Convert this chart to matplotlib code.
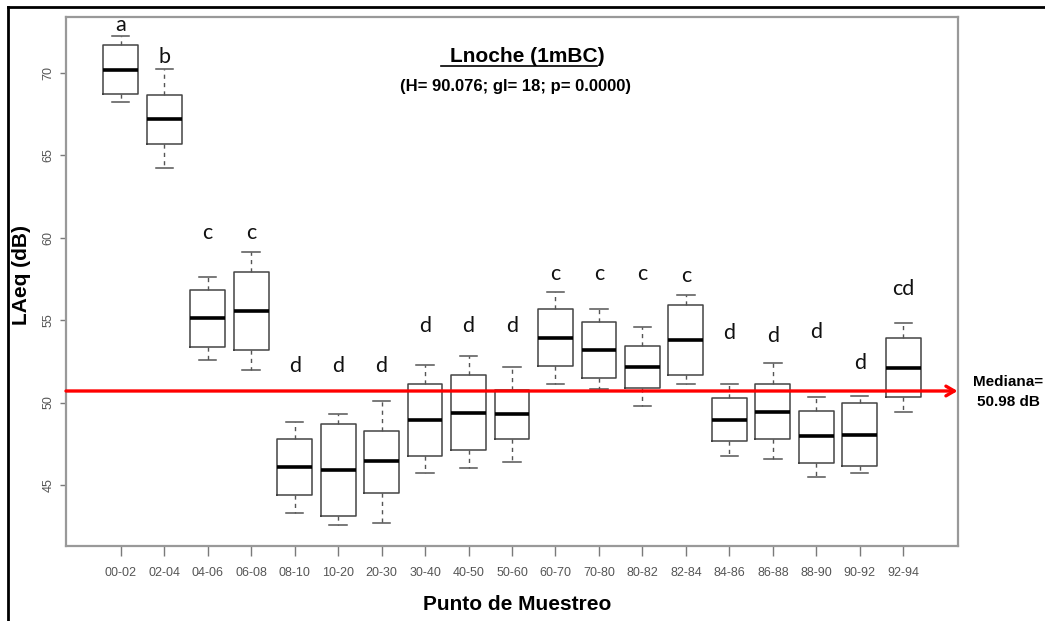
import matplotlib
matplotlib.use("Agg")
import matplotlib.pyplot as plt
from matplotlib.lines import Line2D

# sampling points and box statistics (dB)
puntos = ["00-02", "02-04", "04-06", "06-08", "08-10", "10-20", "20-30", "30-40",
          "40-50", "50-60", "60-70", "70-80", "80-82", "82-84", "84-86", "86-88",
          "88-90", "90-92", "92-94"]
whis_hi = [72.2, 70.2, 57.6, 59.15, 48.85, 49.3, 50.1, 52.3, 52.8, 52.15, 56.7, 55.65,
           54.6, 56.55, 51.15, 52.4, 50.35, 50.4, 54.85]
q3 = [71.7, 68.65, 56.8, 57.9, 47.8, 48.7, 48.3, 51.15, 51.65, 50.75, 55.65, 54.9,
      53.45, 55.9, 50.25, 51.15, 49.5, 50.0, 53.9]
mediana = [70.15, 67.2, 55.1, 55.55, 46.1, 45.9, 46.45, 48.95, 49.35, 49.3, 53.9, 53.2,
           52.15, 53.8, 48.95, 49.45, 47.95, 48.05, 52.1]
q1 = [68.7, 65.65, 53.35, 53.2, 44.4, 43.1, 44.5, 46.75, 47.1, 47.8, 52.2, 51.5,
      50.9, 51.7, 47.65, 47.8, 46.35, 46.15, 50.35]
whis_lo = [68.2, 64.2, 52.55, 51.95, 43.3, 42.55, 42.7, 45.7, 46.0, 46.4, 51.15, 50.8,
           49.8, 51.1, 46.75, 46.6, 45.5, 45.75, 49.4]

# significance letters and their heights
letras = ["a", "b", "c", "c", "d", "d", "d", "d", "d", "d", "c", "c", "c", "c",
          "d", "d", "d", "d", "cd"]
letra_y = [72.9, 70.95, 60.3, 60.3, 52.2, 52.2, 52.2, 54.65, 54.65, 54.65, 57.8, 57.8,
           57.8, 57.65, 54.2, 54.05, 54.3, 52.4, 56.9]

mediana_global = 50.7

gris = "#7a7a7a"

fig = plt.figure(figsize=(10.45, 6.21), dpi=100)
ax = fig.add_axes([66 / 1045, 1 - 546 / 621, (958 - 66) / 1045, (546 - 17) / 621])

stats = []
for i in range(len(puntos)):
    stats.append({"med": mediana[i], "q1": q1[i], "q3": q3[i],
                  "whislo": whis_lo[i], "whishi": whis_hi[i], "fliers": []})

pos = list(range(1, len(puntos) + 1))
ax.bxp(stats, positions=pos, widths=0.8, showfliers=False,
       boxprops=dict(color="#444444", linewidth=1.1),
       medianprops=dict(color="black", linewidth=2.6),
       whiskerprops=dict(color="#555555", linewidth=1.0, linestyle=(0, (3, 3))),
       capprops=dict(color="#555555", linewidth=1.1))

for i, l in enumerate(letras):
    ax.text(pos[i], letra_y[i], l, ha="center", va="center", fontsize=15.5,
            family="Lato", color="#111111")

# red median line with arrow
ax.annotate("", xy=(20.25, mediana_global), xytext=(-0.26, mediana_global),
            arrowprops=dict(arrowstyle="->,head_length=0.6,head_width=0.35",
                            color="#ff0000", lw=2.4, shrinkA=0, shrinkB=0))

ax.set_xlim(-0.26, 20.26)
ax.set_ylim(41.3, 73.38)
ax.set_xticks(pos)
ax.set_xticklabels(puntos, family=["Liberation Sans Narrow", "Liberation Sans"],
                   fontsize=9, color="#555555")
ax.set_yticks([45, 50, 55, 60, 65, 70])
ax.set_yticklabels(["45", "50", "55", "60", "65", "70"], rotation=90, va="center",
                   family="Liberation Sans", fontsize=9, color="#555555")
ax.tick_params(axis="x", length=7.2, color=gris, width=1.0, pad=8)
ax.tick_params(axis="y", length=4.5, color=gris, width=1.0, pad=4)
for s in ax.spines.values():
    s.set_color("#999999")
    s.set_linewidth(1.6)

ax.text(0.5175, 0.925, "Lnoche (1mBC)", transform=ax.transAxes, ha="center",
        va="center", fontsize=15, fontweight="bold", family="Liberation Sans")
ax.plot([441 / 1045, 597 / 1045], [1 - 66 / 621, 1 - 66 / 621], color="black",
        lw=1.2, transform=fig.transFigure, clip_on=False)
ax.text(0.5035, 0.868, "(H= 90.076; gl= 18; p= 0.0000)", transform=ax.transAxes,
        ha="center", va="center", fontsize=12, fontweight="bold",
        family="Liberation Sans")

fig.text(22 / 1045, 1 - 275 / 621, "LAeq (dB)", rotation=90, ha="center",
         va="center", fontsize=15, fontweight="bold", family="Liberation Sans")
fig.text(517 / 1045, 1 - 605 / 621, "Punto de Muestreo", ha="center", va="center",
         fontsize=15, fontweight="bold", family="Liberation Sans")
fig.text(1008 / 1045, 1 - 392 / 621, "Mediana=\n50.98 dB", ha="center",
         va="center", fontsize=11, fontweight="bold", family="Liberation Sans",
         linespacing=1.5)

# outer frame (top and left only)
fig.add_artist(Line2D([8 / 1045, 1], [1 - 7 / 621, 1 - 7 / 621], color="black",
                      lw=2.0, transform=fig.transFigure))
fig.add_artist(Line2D([8 / 1045, 8 / 1045], [0, 1 - 7 / 621], color="black",
                      lw=2.0, transform=fig.transFigure))

fig.savefig("out.png", dpi=100)
